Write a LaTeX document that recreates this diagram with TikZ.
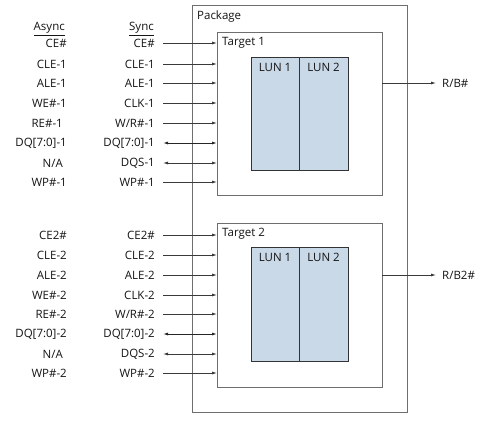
\documentclass[tikz,border=0pt]{standalone}
\usepackage{fontspec}
\setmainfont{Open Sans}
\usetikzlibrary{arrows.meta}
\definecolor{lunfill}{HTML}{C9D9E8}
\definecolor{boxline}{HTML}{6E6E6E}
\definecolor{sigline}{HTML}{3A3A3A}
\tikzset{
  txt/.style={inner sep=0pt, font=\fontsize{11.5}{13}\selectfont, text=black!92},
  lbl/.style={txt, anchor=east},
  head/.style={lbl},
  title/.style={txt, anchor=west},
  boxst/.style={draw=boxline, line width=0.9pt, fill=white},
  lunst/.style={draw=black!80, line width=0.9pt, fill=lunfill},
  sig/.style={draw=sigline, line width=0.8pt, -{Latex[length=5pt,width=3pt]}},
  bsig/.style={draw=sigline, line width=0.8pt, {Latex[length=5pt,width=3pt]}-{Latex[length=5pt,width=3pt]}},
  dsig/.style={bsig, draw=black!85, line width=0.9pt},
}
\begin{document}
\begin{tikzpicture}[x=1pt,y=-1pt]
\useasboundingbox (0,0) rectangle (486,420);
\fill[white] (0,0) rectangle (486,420);
% package
\draw[boxst] (192,5) rectangle (407,412);
\node[title] (pkg) at (197,17) {Package};
% target boxes
\draw[boxst] (217,32) rectangle (382,195);
\coordinate (t1w) at (217,32);
\coordinate (t1e) at (382,32);
\node[title] (t1lbl) at (222,43) {Target 1};
\draw[boxst] (217,223) rectangle (382,387);
\coordinate (t2w) at (217,223);
\coordinate (t2e) at (382,223);
\node[title] (t2lbl) at (222,234) {Target 2};
% LUNs
\draw[lunst] (251,57) rectangle (299,170);
\draw[lunst] (299,57) rectangle (348,170);
\node[txt] (l11) at (275,67) {LUN 1};
\node[txt] (l12) at (323.5,67) {LUN 2};
\draw[lunst] (251,247) rectangle (299,361);
\draw[lunst] (299,247) rectangle (348,361);
\node[txt] (l21) at (275,257) {LUN 1};
\node[txt] (l22) at (323.5,257) {LUN 2};
% headers
\node[head] (ah) at (65,29) {\underline{Async}};
\node[head] (sh) at (154,29) {\underline{Sync}};
% target 1 signals
\foreach \i/\a/\ax/\s/\y/\st in {1/{CE\#}/67/{CE\#}/43/sig, 2/{CLE-1}/67/{CLE-1}/64/sig, 3/{ALE-1}/67/{ALE-1}/83/sig, 4/{WE\#-1}/67/{CLK-1}/103/sig, 5/{RE\#-1}/63/{W/R\#-1}/123/sig, 6/{DQ[7:0]-1}/67/{DQ[7:0]-1}/143/dsig, 7/{N/A}/63/{DQS-1}/163/bsig, 8/{WP\#-1}/67/{WP\#-1}/182/sig}{
  \node[lbl] (a1\i) at (\ax,\y) {\a};
  \node[lbl] (s1\i) at (155,\y) {\s};
  \draw[\st] ([xshift=8pt]s1\i.east) -- (s1\i.east -| t1w);
}
% target 2 signals
\foreach \i/\a/\ax/\s/\y/\st in {1/{CE2\#}/67/{CE2\#}/235/sig, 2/{CLE-2}/67/{CLE-2}/255/sig, 3/{ALE-2}/67/{ALE-2}/275/sig, 4/{WE\#-2}/67/{CLK-2}/295/sig, 5/{RE\#-2}/67/{W/R\#-2}/314/sig, 6/{DQ[7:0]-2}/67/{DQ[7:0]-2}/334/dsig, 7/{N/A}/63/{DQS-2}/354/bsig, 8/{WP\#-2}/67/{WP\#-2}/373/sig}{
  \node[lbl] (a2\i) at (\ax,\y) {\a};
  \node[lbl] (s2\i) at (155,\y) {\s};
  \draw[\st] ([xshift=8pt]s2\i.east) -- (s2\i.east -| t2w);
}
% ready/busy
\node[title] (rb1) at (442,83) {R/B\#};
\node[title] (rb2) at (442,275) {R/B2\#};
\draw[sig] (rb1.west -| t1e) -- ([xshift=-6pt]rb1.west);
\draw[sig] (rb2.west -| t2e) -- ([xshift=-6pt]rb2.west);
\end{tikzpicture}
\end{document}
